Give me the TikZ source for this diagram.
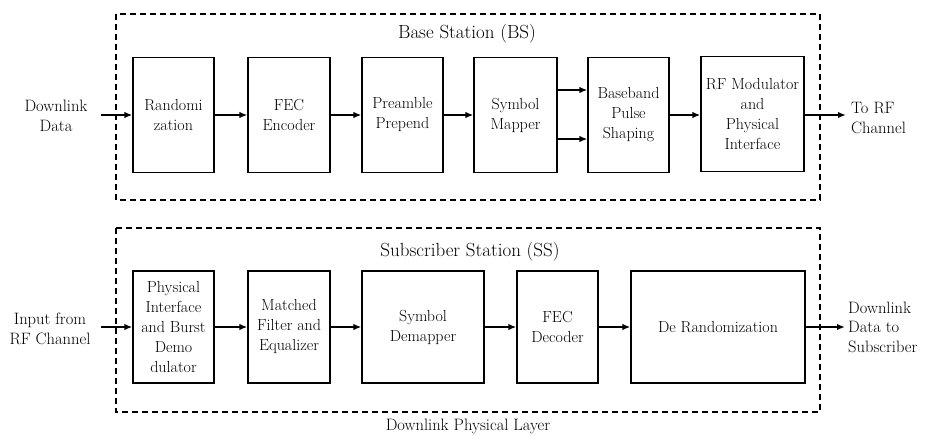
\documentclass[tikz,border=0pt]{standalone}
\usetikzlibrary{arrows.meta}
\begin{document}
\begin{tikzpicture}[x=1pt,y=-1pt,
  blk/.style={draw,line width=1.3pt,align=center,inner sep=1pt,
    font=\fontsize{16}{20}\selectfont},
  lbl/.style={align=center,inner sep=1pt,font=\fontsize{16.5}{19.5}\selectfont},
  ttl/.style={inner sep=0pt,font=\fontsize{19}{22}\selectfont},
  grp/.style={draw,line width=1.3pt,dash pattern=on 6pt off 4pt},
  arr/.style={line width=1.6pt,-{Latex[length=8pt,width=6.5pt]}}]
\useasboundingbox (0,0) rectangle (926,436);
% groups
\draw[grp] (116,14) rectangle (820,200);
\draw[grp] (116,228) rectangle (820,412);
\node[ttl] (bs) at (467,34) {Base Station (BS)};
\node[ttl] (ss) at (470,252) {Subscriber Station (SS)};
\node[lbl] (dpl) at (468,426) {Downlink Physical Layer};
% top chain
\node[blk,minimum width=81pt,minimum height=115pt] (rand) at (173.5,115) {Randomi\\zation};
\node[blk,minimum width=82pt,minimum height=115pt] (fec) at (289,115) {FEC\\Encoder};
\node[blk,minimum width=81pt,minimum height=115pt] (pre) at (402.5,115) {Preamble\\Prepend};
\node[blk,minimum width=83pt,minimum height=115pt] (sym) at (515.5,115) {Symbol\\Mapper};
\node[blk,minimum width=81pt,minimum height=115pt] (bb) at (628.5,115) {Baseband\\Pulse\\Shaping};
\node[blk,minimum width=103pt,minimum height=115pt] (rf) at (752.5,114) {RF Modulator\\and\\Physical\\Interface};
\node[lbl] (dl) at (56,116) {Downlink\\Data};
\node[lbl,align=left,anchor=west] (torf) at (850,118) {To RF\\Channel};
\coordinate (dlo) at (101,115);
\coordinate (rfo) at (846,115);
\draw[arr] (dlo) -- (rand.west);
\draw[arr] (rand) -- (fec);
\draw[arr] (fec) -- (pre);
\draw[arr] (pre) -- (sym);
\draw[arr] ([yshift=25pt]sym.east) -- ([yshift=25pt]bb.west);
\draw[arr] ([yshift=-24pt]sym.east) -- ([yshift=-24pt]bb.west);
\draw[arr] (bb) -- (bb -| rf.west);
\draw[arr] (rf.east |- rfo) -- (rfo);
% bottom chain
\node[blk,minimum width=81pt,minimum height=112pt] (phy) at (173.5,327) {Physical\\Interface\\and Burst\\Demo\\dulator};
\node[blk,minimum width=82pt,minimum height=112pt] (mf) at (289,327) {Matched\\Filter and\\Equalizer};
\node[blk,minimum width=122pt,minimum height=112pt] (sd) at (423,327) {Symbol\\Demapper};
\node[blk,minimum width=81pt,minimum height=112pt] (fd) at (557.5,327) {FEC\\Decoder};
\node[blk,minimum width=174pt,minimum height=112pt] (dr) at (718,327) {De Randomization};
\node[lbl] (inp) at (50,329) {Input from\\RF Channel};
\node[lbl,align=left,anchor=west] (dds) at (847,327) {Downlink\\Data to\\Subscriber};
\coordinate (inpo) at (101,327);
\coordinate (ddso) at (845,327);
\draw[arr] (inpo) -- (phy.west);
\draw[arr] (phy) -- (mf);
\draw[arr] (mf) -- (sd);
\draw[arr] (sd) -- (fd);
\draw[arr] (fd) -- (dr);
\draw[arr] (dr.east) -- (ddso);
\end{tikzpicture}
\end{document}
